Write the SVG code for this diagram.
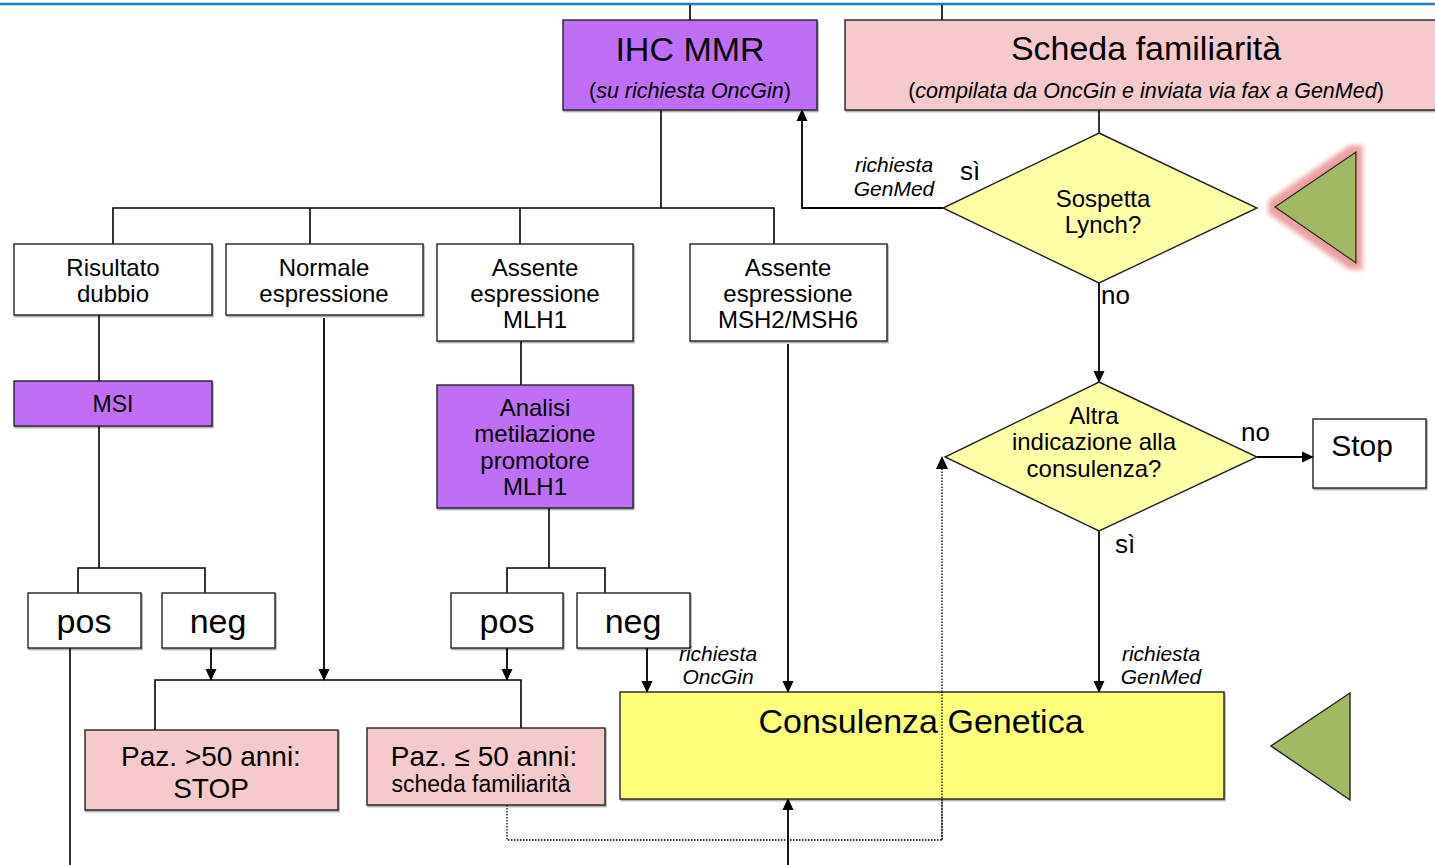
<svg xmlns="http://www.w3.org/2000/svg" width="1435" height="865" viewBox="0 0 1435 865">
  <defs>
    <marker id="arrow" markerWidth="12" markerHeight="12" refX="11" refY="6" orient="auto" markerUnits="userSpaceOnUse">
      <path d="M0,0.5 L12,6 L0,11.5 Z" fill="#000"/>
    </marker>
    <filter id="glow" filterUnits="userSpaceOnUse" x="1240" y="120" width="150" height="180">
      <feMorphology in="SourceAlpha" operator="dilate" radius="6" result="d"/>
      <feGaussianBlur in="d" stdDeviation="2.5" result="b"/>
      <feFlood flood-color="#eea0a0" flood-opacity="1"/>
      <feComposite in2="b" operator="in" result="g"/>
      <feMerge><feMergeNode in="g"/><feMergeNode in="SourceGraphic"/></feMerge>
    </filter>
    <filter id="shadow" x="-5%" y="-5%" width="110%" height="115%">
      <feDropShadow dx="1" dy="1.5" stdDeviation="0.6" flood-color="#000" flood-opacity="0.35"/>
    </filter>
  </defs>
  <style>
    text { font-family: "Liberation Sans", Arial, sans-serif; fill: #000; text-anchor: middle; }
    .box { stroke: #222; stroke-width: 1.4; filter: url(#shadow); }
    .white { fill: #fff; }
    .purple { fill: #bf6ef5; }
    .pink { fill: #f6cacc; }
    .yellow { fill: #ffff7a; }
    .diamond { fill: #ffffa6; stroke: #222; stroke-width: 1.4; }
    .tri { fill: #a2b964; stroke: #222; stroke-width: 1.4; }
    .ln { fill: none; stroke: #000; stroke-width: 1.6; }
    .arr { fill: none; stroke: #000; stroke-width: 1.8; marker-end: url(#arrow); }
    .dot { fill: none; stroke: #000; stroke-width: 1.3; stroke-dasharray: 1.5 1.5; }
    .t24 { font-size: 24px; }
    .it { font-style: italic; font-size: 21px; }
    .lbl { font-size: 26px; text-anchor: start; }
    .big { font-size: 34px; }
  </style>

  <!-- page rule -->
  <line x1="0" y1="4" x2="1435" y2="4" stroke="#1a7fd4" stroke-width="2.5"/>

  <!-- connectors -->
  <g id="connectors">
    <line class="ln" x1="690" y1="5" x2="690" y2="20"/>
    <line class="ln" x1="942" y1="5" x2="942" y2="20"/>
    <polyline class="ln" points="661,110 661,208"/>
    <polyline class="ln" points="113,244 113,208 774,208 774,244"/>
    <line class="ln" x1="310" y1="208" x2="310" y2="244"/>
    <line class="ln" x1="520" y1="208" x2="520" y2="244"/>
    <line class="ln" x1="99" y1="315" x2="99" y2="381"/>
    <line class="ln" x1="99" y1="426" x2="99" y2="568"/>
    <polyline class="ln" points="78,593 78,568 205,568 205,593"/>
    <line class="ln" x1="70" y1="648" x2="70" y2="865"/>
    <line class="arr" x1="211" y1="648" x2="211" y2="680"/>
    <line class="arr" x1="324" y1="318" x2="324" y2="680"/>
    <polyline class="ln" points="155,730 155,680 521,680 521,730"/>
    <line class="ln" x1="521" y1="341" x2="521" y2="385"/>
    <line class="ln" x1="549" y1="508" x2="549" y2="568"/>
    <polyline class="ln" points="507,593 507,568 605,568 605,593"/>
    <line class="arr" x1="507" y1="648" x2="507" y2="680"/>
    <line class="arr" x1="647" y1="648" x2="647" y2="692"/>
    <line class="arr" x1="788" y1="344" x2="788" y2="692"/>
    <line class="arr" x1="788" y1="865" x2="788" y2="799"/>
    <polyline class="dot" points="507,805 507,840 942,840 942,468"/>
    <path d="M936,469 L942,456 L948,469 Z" fill="#000"/>
    <line class="ln" x1="1099" y1="110" x2="1099" y2="133"/>
    <polyline class="arr" points="943,208 802,208 802,110"/>
    <line class="arr" x1="1099" y1="283" x2="1099" y2="382"/>
    <line class="arr" x1="1257" y1="457" x2="1313" y2="457"/>
    <line class="arr" x1="1099" y1="531" x2="1099" y2="692"/>
  </g>

  <!-- connector labels -->
  <g id="labels">
    <text class="it" x="894" y="172">richiesta</text>
    <text class="it" x="894" y="196">GenMed</text>
    <text class="lbl" x="960" y="180">sì</text>
    <text class="lbl" x="1101" y="304">no</text>
    <text class="lbl" x="1241" y="441">no</text>
    <text class="lbl" x="1115" y="553">sì</text>
    <text class="it" x="718" y="661">richiesta</text>
    <text class="it" x="718" y="684">OncGin</text>
    <text class="it" x="1161" y="661">richiesta</text>
    <text class="it" x="1161" y="684">GenMed</text>
  </g>

  <g id="ihc">
    <rect class="box purple" x="563" y="20" width="254" height="90"/>
    <text x="690" y="61" class="big">IHC MMR</text>
    <text x="690" y="98" font-size="21.5">(<tspan font-style="italic">su richiesta OncGin</tspan>)</text>
  </g>

  <g id="scheda">
    <rect class="box pink" x="845" y="20" width="600" height="90"/>
    <text x="1146" y="60" class="big">Scheda familiarità</text>
    <text x="1146" y="98" font-size="21.5">(<tspan font-style="italic">compilata da OncGin e inviata via fax a GenMed</tspan>)</text>
  </g>

  <g id="dubbio">
    <rect class="box white" x="14" y="244" width="198" height="71"/>
    <text class="t24" x="113" y="276">Risultato</text>
    <text class="t24" x="113" y="302">dubbio</text>
  </g>

  <g id="normale">
    <rect class="box white" x="226" y="244" width="197" height="71"/>
    <text class="t24" x="324" y="276">Normale</text>
    <text class="t24" x="324" y="302">espressione</text>
  </g>

  <g id="mlh1">
    <rect class="box white" x="437" y="244" width="196" height="97"/>
    <text class="t24" x="535" y="276">Assente</text>
    <text class="t24" x="535" y="302">espressione</text>
    <text class="t24" x="535" y="328">MLH1</text>
  </g>

  <g id="msh">
    <rect class="box white" x="690" y="244" width="197" height="97"/>
    <text class="t24" x="788" y="276">Assente</text>
    <text class="t24" x="788" y="302">espressione</text>
    <text class="t24" x="788" y="328">MSH2/MSH6</text>
  </g>

  <g id="msi">
    <rect class="box purple" x="14" y="381" width="198" height="45"/>
    <text x="113" y="412" font-size="23">MSI</text>
  </g>

  <g id="metilazione">
    <rect class="box purple" x="437" y="385" width="196" height="123"/>
    <text class="t24" x="535" y="416">Analisi</text>
    <text class="t24" x="535" y="442">metilazione</text>
    <text class="t24" x="535" y="469">promotore</text>
    <text class="t24" x="535" y="495">MLH1</text>
  </g>

  <g id="pos1">
    <rect class="box white" x="28" y="593" width="113" height="55"/>
    <text x="84" y="633" font-size="34">pos</text>
  </g>
  <g id="neg1">
    <rect class="box white" x="162" y="593" width="113" height="55"/>
    <text x="218" y="633" font-size="34">neg</text>
  </g>
  <g id="pos2">
    <rect class="box white" x="451" y="593" width="112" height="55"/>
    <text x="507" y="633" font-size="34">pos</text>
  </g>
  <g id="neg2">
    <rect class="box white" x="577" y="593" width="113" height="55"/>
    <text x="633" y="633" font-size="34">neg</text>
  </g>

  <g id="over50">
    <rect class="box pink" x="85" y="730" width="253" height="80"/>
    <text x="211" y="766" font-size="28">Paz. &gt;50 anni:</text>
    <text x="211" y="798" font-size="28">STOP</text>
  </g>

  <g id="under50">
    <rect class="box pink" x="367" y="728" width="238" height="77"/>
    <text x="484" y="766" font-size="28">Paz. ≤ 50 anni:</text>
    <text x="481" y="792" font-size="23">scheda familiarità</text>
  </g>

  <g id="consulenza">
    <rect class="box yellow" x="620" y="692" width="604" height="107"/>
    <text x="921" y="733" font-size="34">Consulenza Genetica</text>
  </g>
  <!-- dotted return path crosses the box -->
  <line class="dot" x1="942" y1="840" x2="942" y2="692"/>

  <g id="lynch">
    <polygon class="diamond" points="1099,133 1257,208 1099,283 943,208"/>
    <text class="t24" x="1103" y="207">Sospetta</text>
    <text class="t24" x="1103" y="233">Lynch?</text>
  </g>

  <g id="altra">
    <polygon class="diamond" points="1099,382 1257,457 1099,531 945,457"/>
    <text class="t24" x="1094" y="424">Altra</text>
    <text class="t24" x="1094" y="450">indicazione alla</text>
    <text class="t24" x="1094" y="477">consulenza?</text>
  </g>

  <g id="stop">
    <rect class="box white" x="1313" y="419" width="113" height="69"/>
    <text x="1362" y="456" font-size="30">Stop</text>
  </g>

  <g id="marker-top">
    <polygon class="tri" points="1356,152 1356,263 1275,207" filter="url(#glow)"/>
  </g>
  <g id="marker-bottom">
    <polygon class="tri" points="1350,693 1350,800 1271,746"/>
  </g>
</svg>
